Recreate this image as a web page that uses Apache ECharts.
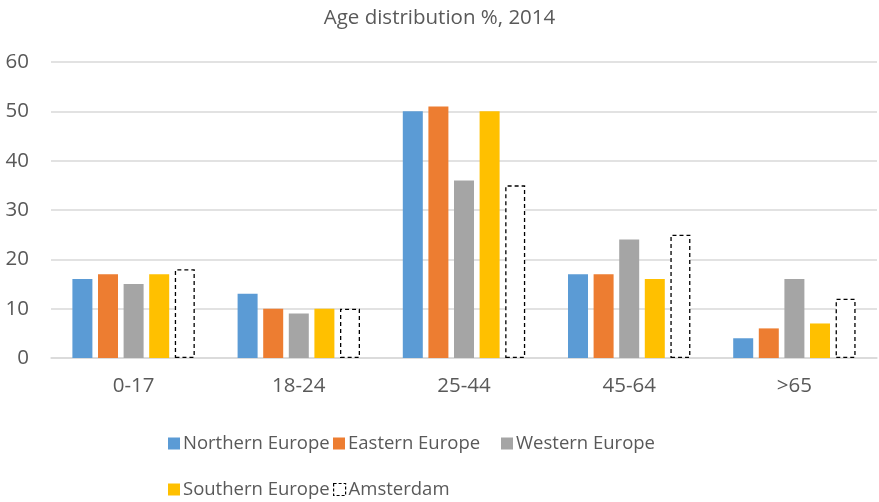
<!DOCTYPE html>
<html>
<head>
<meta charset="utf-8">
<script src="https://cdn.jsdelivr.net/npm/echarts@6/dist/echarts.min.js"></script>
<style>
  html, body { margin: 0; padding: 0; background: #fff; }
  #chart { width: 879px; height: 502px; }
</style>
</head>
<body>
<div id="chart"></div>
<script>
const categories = ['0-17', '18-24', '25-44', '45-64', '>65'];
const northernEurope = [16, 13, 50, 17, 4];
const easternEurope = [17, 10, 51, 17, 6];
const westernEurope = [15, 9, 36, 24, 16];
const southernEurope = [17, 10, 50, 16, 7];
const amsterdam = [18, 10, 35, 25, 12];
const yTicks = [0, 10, 20, 30, 40, 50, 60];

const FONT = '"Open Sans", "Noto Sans", sans-serif';
const TEXT = '#595959';

const chart = echarts.init(document.getElementById('chart'));

function bar(name, data, color) {
  return {
    name: name, type: 'bar', data: data,
    barWidth: 20, barGap: '28%',
    itemStyle: { color: color },
    emphasis: { disabled: true }
  };
}

const legendBase = {
  icon: 'rect',
  itemWidth: 12, itemHeight: 12, itemGap: 4,
  textStyle: { color: TEXT, fontSize: 18.5, fontFamily: FONT, padding: [0, 0, 0, -2] },
  selectedMode: false
};

function legendAt(name, left, top, itemStyle) {
  const item = { name: name };
  if (itemStyle) item.itemStyle = itemStyle;
  return Object.assign({}, legendBase, { data: [item], left: left, top: top });
}

chart.setOption({
  animation: false,
  title: {
    text: 'Age distribution %, 2014',
    left: 'center', top: 3,
    textStyle: { color: TEXT, fontSize: 20.5, fontWeight: 'normal', fontFamily: FONT }
  },
  grid: { left: 51, right: 2, top: 62, bottom: 144, containLabel: false },
  xAxis: {
    type: 'category', data: categories,
    axisLine: { lineStyle: { color: '#d9d9d9', width: 1.5 } },
    axisTick: { show: false },
    axisLabel: { color: TEXT, fontSize: 20.5, fontFamily: FONT, margin: 18 }
  },
  yAxis: {
    type: 'value', min: yTicks[0], max: yTicks[yTicks.length - 1], interval: 10,
    axisLine: { show: false }, axisTick: { show: false },
    splitLine: { lineStyle: { color: '#d9d9d9', width: 1.5 } },
    axisLabel: { color: TEXT, fontSize: 20.5, fontFamily: FONT, margin: 22 }
  },
  legend: [
    legendAt('Northern Europe', 163, 429),
    legendAt('Eastern Europe', 328, 429),
    legendAt('Western Europe', 496, 429),
    legendAt('Southern Europe', 163, 475),
    legendAt('Amsterdam', 328, 475, {
      color: '#ffffff', borderColor: '#000000', borderWidth: 1.2, borderType: [3, 2]
    })
  ],
  series: [
    bar('Northern Europe', northernEurope, '#5B9BD5'),
    bar('Eastern Europe', easternEurope, '#ED7D31'),
    bar('Western Europe', westernEurope, '#A5A5A5'),
    bar('Southern Europe', southernEurope, '#FFC000'),
    {
      name: 'Amsterdam', type: 'bar', data: amsterdam,
      barWidth: 20, barGap: '28%',
      itemStyle: { color: '#ffffff', borderColor: '#000000', borderWidth: 1.3, borderType: [4, 3] },
      emphasis: { disabled: true }
    }
  ]
});
</script>
</body>
</html>
